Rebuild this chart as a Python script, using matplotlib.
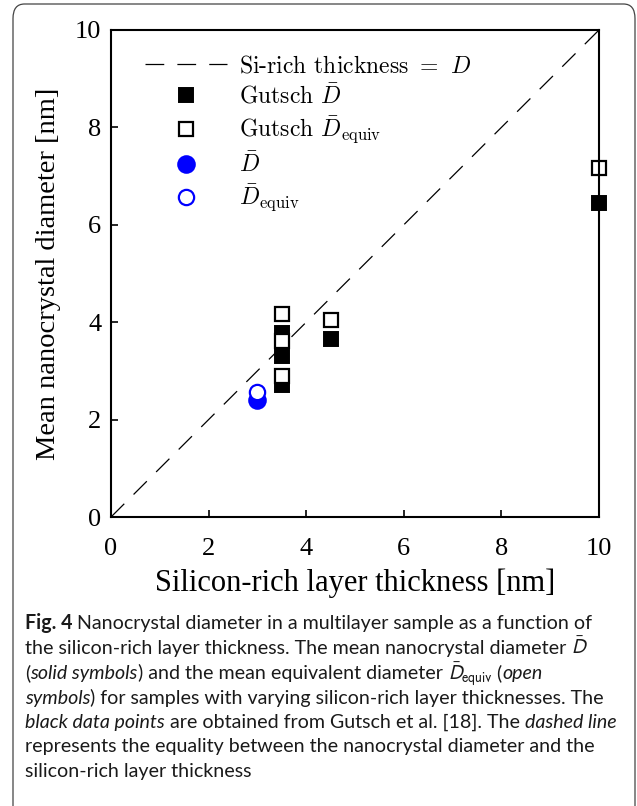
import matplotlib
matplotlib.use('Agg')
import matplotlib.pyplot as plt
from matplotlib.patches import FancyBboxPatch

# data
thickness_gutsch = [3.5, 3.5, 3.5, 4.5, 10]
d_gutsch = [3.78, 3.30, 2.71, 3.65, 6.45]
d_equiv_gutsch = [4.17, 3.62, 2.90, 4.05, 7.17]
thickness_ours = [3]
d_ours = [2.40]
d_equiv_ours = [2.57]

x_ticks = [0, 2, 4, 6, 8, 10]
y_ticks = [0, 2, 4, 6, 8, 10]

caption_lines = [
    [("Fig. 4", "bold"), (" Nanocrystal diameter in a multilayer sample as a function of", "normal")],
    [("the silicon-rich layer thickness. The mean nanocrystal diameter ", "normal"), (r"$\bar{D}$", "math")],
    [("(", "normal"), ("solid symbols", "italic"), (") and the mean equivalent diameter ", "normal"),
     (r"$\bar{D}_{\mathrm{equiv}}$", "math"), (" (", "normal"), ("open", "italic")],
    [("symbols", "italic"), (") for samples with varying silicon-rich layer thicknesses. The", "normal")],
    [("black data points", "italic"), (" are obtained from Gutsch et al. [18]. The ", "normal"),
     ("dashed line", "italic")],
    [("represents the equality between the nanocrystal diameter and the", "normal")],
    [("silicon-rich layer thickness", "normal")],
]

W, H = 637, 806
plt.rcParams['mathtext.fontset'] = 'cm'
plt.rcParams['axes.unicode_minus'] = False
fig = plt.figure(figsize=(W / 100, H / 100), dpi=100)

# rounded frame around the figure
frame = FancyBboxPatch((13 / W, -0.05), (W - 2) / W - 13 / W, 1 - 4 / H + 0.05,
                       boxstyle="round,pad=0,rounding_size=0.018",
                       transform=fig.transFigure, fill=False, edgecolor='#444444', linewidth=0.9)
fig.patches.append(frame)

ax = fig.add_axes([111 / W, 1 - 517 / H, (599 - 111) / W, (517 - 30) / H])

ax.plot([0, 10], [0, 10], color='black', linestyle=(0, (15, 10.5)), linewidth=0.9,
        label=r'Si-rich thickness $=$ $D$')
ax.plot(thickness_gutsch, d_gutsch, linestyle='none', marker='s', markersize=10,
        markerfacecolor='black', markeredgecolor='black', markeredgewidth=1.4,
        clip_on=False, label=r'Gutsch $\bar{D}$')
ax.plot(thickness_gutsch, d_equiv_gutsch, linestyle='none', marker='s', markersize=10,
        markerfacecolor='white', markeredgecolor='black', markeredgewidth=1.6,
        clip_on=False, label=r'Gutsch $\bar{D}_{\mathrm{equiv}}$')
ax.plot(thickness_ours, d_ours, linestyle='none', marker='o', markersize=12,
        markerfacecolor='blue', markeredgecolor='blue', markeredgewidth=1.4,
        clip_on=False, label=r'$\bar{D}$')
ax.plot(thickness_ours, d_equiv_ours, linestyle='none', marker='o', markersize=11,
        markerfacecolor='white', markeredgecolor='blue', markeredgewidth=1.6,
        clip_on=False, label=r'$\bar{D}_{\mathrm{equiv}}$')

ax.set_xlim(0, 10)
ax.set_ylim(0, 10)
ax.set_xticks(x_ticks)
ax.set_yticks(y_ticks)
ax.set_xticklabels([str(t) for t in x_ticks], family='Liberation Serif', fontsize=19)
ax.set_yticklabels([str(t) for t in y_ticks], family='Liberation Serif', fontsize=19)
ax.tick_params(direction='in', length=5, width=1.2, top=False, right=False)
ax.tick_params(axis='x', pad=15)
ax.tick_params(axis='y', pad=7)
for s in ax.spines.values():
    s.set_linewidth(1.5)

ax.set_xlabel('Silicon-rich layer thickness [nm]', family='Liberation Serif', fontsize=22, labelpad=6)
ax.set_ylabel('Mean nanocrystal diameter [nm]', family='Liberation Serif', fontsize=20.5, labelpad=10)

leg = ax.legend(loc='upper left', bbox_to_anchor=(0.05, 0.967), frameon=False,
                prop={'family': 'cmr10', 'size': 17}, handlelength=3.47, handletextpad=0.5,
                labelspacing=0.26, borderaxespad=0)

# caption with mixed styles
renderer = fig.canvas.get_renderer()
cap_size = 14.1
x0 = 25
baselines = [629, 654, 679, 704, 728, 752, 777]
for line, yb in zip(caption_lines, baselines):
    x = x0
    for text, style in line:
        kw = dict(family='Lato', fontsize=cap_size, color='#1a1a1a', va='baseline', ha='left')
        if style == 'bold':
            kw['weight'] = 'bold'
        elif style == 'italic':
            kw['style'] = 'italic'
        elif style == 'math':
            kw['math_fontfamily'] = 'stixsans'
        t = fig.text(x / W, 1 - yb / H, text, **kw)
        bb = t.get_window_extent(renderer)
        x += bb.width

fig.savefig('out.png', dpi=100)
